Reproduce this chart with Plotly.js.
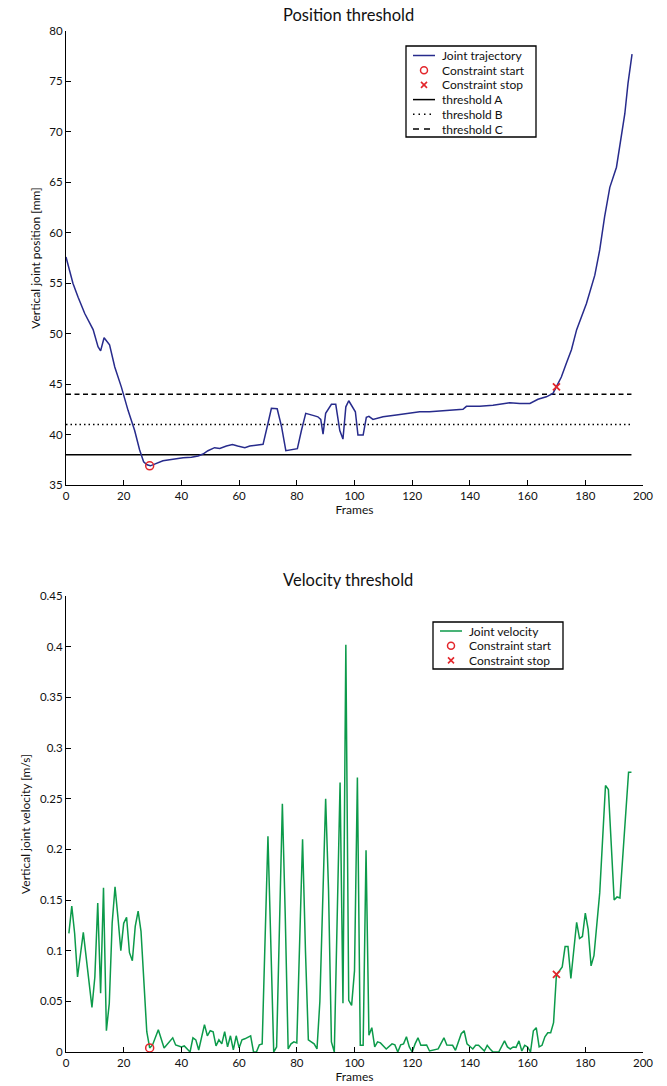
<!DOCTYPE html>
<html>
<head>
<meta charset="utf-8">
<script src="https://cdn.plot.ly/plotly-3.0.1.min.js"></script>
<style>html,body{margin:0;padding:0;background:#fff;}#chart{width:667px;height:1086px;}</style>
</head>
<body>
<div id="chart"></div>
<script>
// ---- data ----
const posFrames = [0,2.4,4.2,6.5,9.4,11.1,12,13.2,15.1,16.9,19.2,21.5,23.8,25.5,26.9,28.1,29.25,31.3,33.6,35.9,38.3,40.6,43.5,45.8,47.5,49.2,51.5,53.3,55.6,57.7,59.5,62,63.7,67,68.3,70,71.2,73.2,74.7,76.2,78.1,80.2,81.6,83.1,85.6,87.3,88.3,89.1,90,92,93.5,94.9,96,97,98,98.9,100.3,101.2,103,104.1,105,106.4,109.9,114.5,118,122.6,126,130,134,137.6,138.8,143.4,148,153.8,157.3,160.8,163.6,166.5,168.8,170,171.7,173.4,175.2,177,180.4,183.3,185,186.7,188.5,190.8,192.5,193.7,194.8,196.2];
const posValues = [57.6,55.0,53.6,52.0,50.4,48.7,48.3,49.6,48.9,46.7,44.7,42.4,40.4,38.5,37.3,37.0,36.9,37.1,37.4,37.5,37.64,37.7,37.74,37.87,38.07,38.4,38.7,38.63,38.86,39.0,38.86,38.7,38.86,39.0,39.03,41.1,42.6,42.56,40.8,38.4,38.5,38.6,40.4,42.1,41.9,41.76,41.5,40.05,42.1,43.0,43.0,40.4,39.55,42.75,43.35,42.9,42.26,39.95,39.95,41.7,41.8,41.5,41.76,41.93,42.1,42.26,42.26,42.35,42.45,42.5,42.8,42.8,42.9,43.15,43.09,43.09,43.5,43.74,44.08,44.73,45.7,47.05,48.4,50.4,53.0,55.8,58.3,61.6,64.5,66.5,69.5,71.8,74.8,77.7];

const velFrames = [1,2,3,4,6,7,9,10,11,12,13,14,15,16,17,18,19,20,21,22,23,24,25,26,27,28,29,30,32,34,37,38,40,41,43,44,45,46,48,49,50,51,52,53,54,55,56,57,58,59,60,61,62,64,65,66,67,68,70,71,72,73,75,76,77,78,79,80,82,83,84,85,86,87,88,90,91,92,93,95,96,97,98,99,100,101,102,103,104,105,106,107,108,109,111,113,114,115,116,117,118,119,120,121,122,123,125,126,128,129,131,132,134,135,137,138,139,141,142,143,145,146,147,148,150,152,153,154,155,156,157,158,159,160,161,162,163,164,165,166,167,168,169,170,171,172,173,174,175,177,178,179,180,181,182,183,185,187,188,190,191,192,195,196];
const velValues = [0.117,0.144,0.117,0.074,0.118,0.094,0.044,0.074,0.147,0.058,0.162,0.021,0.048,0.127,0.163,0.133,0.100,0.127,0.133,0.098,0.090,0.124,0.139,0.119,0.063,0.020,0.004,0.007,0.022,0.004,0.014,0.007,0.005,0.006,0.0,0.014,0.012,0.002,0.027,0.016,0.021,0.020,0.006,0.012,0.008,0.020,0.005,0.016,0.002,0.016,0.004,0.012,0.013,0.016,0.0,0.0,0.007,0.008,0.213,0.114,0.0,0.005,0.245,0.134,0.003,0.008,0.010,0.009,0.210,0.100,0.012,0.010,0.008,0.003,0.050,0.250,0.160,0.010,0.0,0.266,0.048,0.402,0.051,0.046,0.080,0.271,0.0066,0.0066,0.199,0.0165,0.024,0.005,0.010,0.009,0.003,0.008,0.007,0.0,0.007,0.008,0.015,0.005,0.0,0.008,0.014,0.0066,0.007,0.001,0.002,0.003,0.014,0.007,0.0066,0.0017,0.018,0.021,0.008,0.003,0.0066,0.0066,0.001,0.0066,0.003,0.0,0.0,0.011,0.005,0.003,0.005,0.0046,0.011,0.001,0.0066,0.005,0.0,0.021,0.024,0.005,0.0066,0.015,0.019,0.019,0.029,0.0765,0.080,0.084,0.104,0.104,0.0725,0.128,0.112,0.114,0.137,0.121,0.085,0.095,0.157,0.263,0.259,0.150,0.153,0.152,0.276,0.276];

const startFrame = 29, startPos = 36.9, startVel = 0.004;
const stopFrame = 170, stopPos = 44.73, stopVel = 0.0765;

const thresholdFrames = [0, 196];
const thresholdA = 38, thresholdB = 41, thresholdC = 44;

const xTicks = [0,20,40,60,80,100,120,140,160,180,200];

const posLegend = ['Joint trajectory','Constraint start','Constraint stop','threshold A','threshold B','threshold C'];
const velLegend = ['Joint velocity','Constraint start','Constraint stop'];

// ---- styles ----
const FONT = 'Lato, "Open Sans", sans-serif';
const BLUE = '#272b8c', GREEN = '#0c9a4a', RED = '#e3262b', TXT = '#111';

const traces = [
  {x: thresholdFrames, y: [thresholdA, thresholdA], mode:'lines', line:{color:'#000', width:1.6}, xaxis:'x', yaxis:'y', name:'threshold A'},
  {x: thresholdFrames, y: [thresholdB, thresholdB], mode:'lines', line:{color:'#000', width:1.6, dash:'1.5px,3px'}, xaxis:'x', yaxis:'y', name:'threshold B'},
  {x: thresholdFrames, y: [thresholdC, thresholdC], mode:'lines', line:{color:'#000', width:1.6, dash:'5px,3.5px'}, xaxis:'x', yaxis:'y', name:'threshold C'},
  {x: posFrames, y: posValues, mode:'lines', line:{color:BLUE, width:1.5}, xaxis:'x', yaxis:'y', name:'Joint trajectory', cliponaxis:false},
  {x: [startFrame], y: [startPos], mode:'markers', marker:{symbol:'circle-open', size:8, color:RED, line:{width:1.5, color:RED}}, xaxis:'x', yaxis:'y', cliponaxis:false},
  {x: [stopFrame], y: [stopPos], mode:'markers', marker:{symbol:'x-thin-open', size:7, color:RED, line:{width:1.8, color:RED}}, xaxis:'x', yaxis:'y', cliponaxis:false},
  {x: velFrames, y: velValues, mode:'lines', line:{color:GREEN, width:1.5}, xaxis:'x2', yaxis:'y2', name:'Joint velocity', cliponaxis:false},
  {x: [startFrame], y: [startVel], mode:'markers', marker:{symbol:'circle-open', size:8, color:RED, line:{width:1.5, color:RED}}, xaxis:'x2', yaxis:'y2', cliponaxis:false},
  {x: [stopFrame], y: [stopVel], mode:'markers', marker:{symbol:'x-thin-open', size:7, color:RED, line:{width:1.8, color:RED}}, xaxis:'x2', yaxis:'y2', cliponaxis:false}
];

// pixel -> paper helpers (plot area: x 66..643, y 31..1052)
const L = 66, R = 643, T = 31, B = 1052;
const PX = p => (p - L) / (R - L);
const PY = p => (B - p) / (B - T);

const axisBase = {
  range:[0,200], tickvals: xTicks, ticks:'inside', ticklen:5, tickwidth:1, tickcolor:'#000',
  showline:true, linecolor:'#000', linewidth:1, showgrid:false, zeroline:false, mirror:false,
  tickfont:{family:FONT, size:11.5, color:TXT}, fixedrange:true
};

const shapes = [], annotations = [];

function legendBox(x0, y0, x1, y1){
  shapes.push({type:'rect', xref:'paper', yref:'paper', x0:PX(x0), x1:PX(x1), y0:PY(y0), y1:PY(y1), line:{color:'#000', width:1.3}, fillcolor:'#fff'});
}
function legLine(xa, xb, y, color, dash){
  shapes.push({type:'line', xref:'paper', yref:'paper', x0:PX(xa), x1:PX(xb), y0:PY(y), y1:PY(y), line:{color:color, width:1.5, dash:dash||'solid'}});
}
function legCircle(cx, cy){
  const r = 3.5;
  shapes.push({type:'circle', xref:'paper', yref:'paper', x0:PX(cx-r), x1:PX(cx+r), y0:PY(cy+r), y1:PY(cy-r), line:{color:RED, width:1.5}});
}
function legCross(cx, cy){
  const r = 3;
  shapes.push({type:'line', xref:'paper', yref:'paper', x0:PX(cx-r), x1:PX(cx+r), y0:PY(cy-r), y1:PY(cy+r), line:{color:RED, width:1.6}});
  shapes.push({type:'line', xref:'paper', yref:'paper', x0:PX(cx-r), x1:PX(cx+r), y0:PY(cy+r), y1:PY(cy-r), line:{color:RED, width:1.6}});
}
function legText(x, y, text){
  annotations.push({xref:'paper', yref:'paper', x:PX(x), y:PY(y), xanchor:'left', yanchor:'middle', text:text, showarrow:false, font:{family:FONT, size:12, color:TXT}});
}

// top legend
legendBox(406, 46, 536, 137);
const topRows = [55.5, 70.2, 84.9, 99.6, 114.3, 129];
legLine(413, 435, topRows[0], BLUE);
legCircle(424, topRows[1]);
legCross(424, topRows[2]);
legLine(413, 435, topRows[3], '#000');
legLine(413, 435, topRows[4], '#000', '1.5px,4px');
legLine(413, 435, topRows[5], '#000', '6px,5px');
posLegend.forEach((t,i) => legText(440, topRows[i], t));

// bottom legend
legendBox(433, 622, 563, 669);
const botRows = [631, 645.7, 660.4];
legLine(440, 462, botRows[0], GREEN);
legCircle(451, botRows[1]);
legCross(451, botRows[2]);
velLegend.forEach((t,i) => legText(467, botRows[i], t));

// titles
annotations.push({xref:'paper', yref:'paper', x:PX(348), y:PY(15), xanchor:'center', yanchor:'middle', text:'Position threshold', showarrow:false, font:{family:FONT, size:16.5, color:TXT}});
annotations.push({xref:'paper', yref:'paper', x:PX(348), y:PY(580), xanchor:'center', yanchor:'middle', text:'Velocity threshold', showarrow:false, font:{family:FONT, size:16.5, color:TXT}});

const layout = {
  width:667, height:1086,
  margin:{l:L, r:667-R, t:T, b:1086-B, pad:0},
  paper_bgcolor:'#fff', plot_bgcolor:'#fff',
  showlegend:false,
  font:{family:FONT, size:11, color:TXT},
  xaxis: Object.assign({}, axisBase, {anchor:'y', domain:[0,1], title:{text:'Frames', font:{family:FONT, size:12, color:TXT}, standoff:3}}),
  yaxis: {anchor:'x', domain:[PY(485), 1], range:[35,80], dtick:5, tick0:35, ticks:'inside', ticklen:5, tickwidth:1, tickcolor:'#000',
    showline:true, linecolor:'#000', linewidth:1, showgrid:false, zeroline:false, fixedrange:true,
    tickfont:{family:FONT, size:11.5, color:TXT}, title:{text:'Vertical joint position [mm]', font:{family:FONT, size:12, color:TXT}, standoff:6}},
  xaxis2: Object.assign({}, axisBase, {anchor:'y2', domain:[0,1], title:{text:'Frames', font:{family:FONT, size:12, color:TXT}, standoff:3}}),
  yaxis2: {anchor:'x2', domain:[0, PY(596)], range:[0,0.45], dtick:0.05, tick0:0, ticks:'inside', ticklen:5, tickwidth:1, tickcolor:'#000',
    showline:true, linecolor:'#000', linewidth:1, showgrid:false, zeroline:false, fixedrange:true,
    tickfont:{family:FONT, size:11.5, color:TXT}, title:{text:'Vertical joint velocity [m/s]', font:{family:FONT, size:12, color:TXT}, standoff:6}},
  shapes: shapes,
  annotations: annotations
};

Plotly.newPlot('chart', traces, layout, {staticPlot:true, displayModeBar:false});
</script>
</body>
</html>
